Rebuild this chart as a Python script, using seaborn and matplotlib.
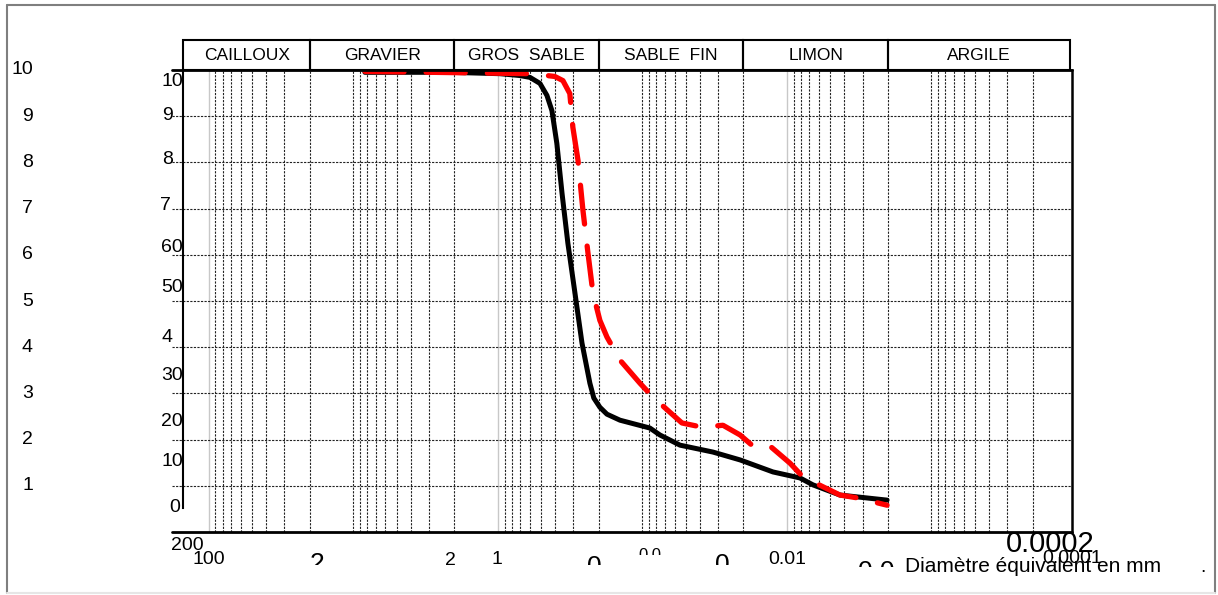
import numpy as np
import matplotlib
matplotlib.use("Agg")
import matplotlib.pyplot as plt
from matplotlib.ticker import LogLocator, NullFormatter
from matplotlib.transforms import Bbox, blended_transform_factory
from matplotlib.patches import Rectangle
import seaborn as sns

# grain size curves: diameter (mm) and % passing
black_d = [8.32, 2.15, 0.969, 0.705, 0.600, 0.512, 0.458, 0.423, 0.391, 0.360, 0.328,
           0.293, 0.262, 0.231, 0.217, 0.197, 0.176, 0.143, 0.0888, 0.0757, 0.0550,
           0.0325, 0.0211, 0.0125, 0.00813, 0.00661, 0.00430, 0.00203]
black_p = [99.5, 99.5, 99.2, 98.8, 98.4, 97.1, 94.5, 91.2, 84.1, 73.3, 62.5,
           51.7, 40.9, 32.2, 29.0, 27.0, 25.5, 24.2, 22.5, 21.0, 18.8,
           17.3, 15.6, 13.0, 11.7, 10.2, 8.0, 6.9]
red_d = [8.32, 0.601, 0.458, 0.404, 0.355, 0.318, 0.303, 0.279, 0.258, 0.238, 0.220,
         0.197, 0.176, 0.143, 0.104, 0.0846, 0.0533, 0.0388, 0.0277, 0.0211, 0.0172,
         0.0131, 0.00953, 0.00774, 0.00430, 0.00328, 0.00203]
red_p = [99.7, 99.2, 98.8, 98.6, 97.7, 94.9, 87.6, 80.4, 69.6, 60.3, 51.7,
         45.8, 42.2, 37.2, 32.2, 29.2, 23.6, 22.7, 23.1, 21.0, 18.6,
         18.6, 14.9, 11.9, 8.0, 7.4, 5.8]

# soil classes and their limits (mm)
classes = ["CAILLOUX", "GRAVIER", "GROS  SABLE", "SABLE  FIN", "LIMON", "ARGILE"]
class_edges = [150, 20, 2, 0.2, 0.02, 0.002, 0.00011]

grid_pct = [10, 20, 30, 40, 50, 60, 70, 80, 90]
outer_vals = [100, 90, 80, 70, 60, 50, 40, 30, 20, 10]
outer_text = ["10", "9", "8", "7", "6", "5", "4", "3", "2", "1"]

# leftover labels of the original chart: text, x px, top px, size, clip px
inner_labels = [("10", 183, 82), ("9", 173, 116), ("8", 173, 160), ("7", 171, 205),
                ("60", 183, 247), ("50", 183, 287), ("4", 172, 337), ("30", 183, 376),
                ("20", 183, 422), ("10", 183, 462), ("0", 180, 507)]
bottom_labels = [("200", 187, 536, 14, None), ("100", 209, 550, 14, None),
                 ("2", 317, 552, 19, 565), ("2", 450, 551, 14, None),
                 ("1", 497, 550, 14, None), ("0", 594, 555, 19, 565),
                 ("0.0", 650, 548, 12, 555), ("0", 722, 553, 19, 565),
                 ("0.01", 787, 550, 14, None), ("0.0", 876, 560, 19, 567),
                 ("0.0002", 1050, 531, 21, 553), ("0.0001", 1072, 549, 14, None)]

W, H = 1218, 595
sns.set_theme(style="white")
plt.rcParams["font.family"] = ["Liberation Sans", "DejaVu Sans"]

fig = plt.figure(figsize=(W / 100, H / 100), dpi=100)
ax = fig.add_axes([183 / W, 1 - 532 / H, 889 / W, 462 / H])

sns.lineplot(x=black_d, y=black_p, color="black", lw=3.6, sort=False, ax=ax, zorder=3)
sns.lineplot(x=red_d, y=red_p, color="red", lw=3.8, sort=False, ax=ax, zorder=4)
ax.lines[-2].set_solid_joinstyle("round")
red = ax.lines[-1]
red.set_linestyle((0, (7.4, 4.2)))
red.set_dash_capstyle("round")
red.set_dash_joinstyle("round")

ax.set_xscale("log")
ax.set_xlim(151, 1.066e-4)
ax.set_ylim(0, 100)
ax.set_xlabel("")
ax.set_ylabel("")
ax.set_yticks([])

ax.xaxis.set_major_locator(LogLocator(base=100, numticks=10))
ax.xaxis.set_minor_locator(LogLocator(base=10, subs=np.arange(1, 10), numticks=100))
ax.xaxis.set_major_formatter(NullFormatter())
ax.xaxis.set_minor_formatter(NullFormatter())
ax.tick_params(axis="x", which="major", direction="inout", length=10, width=1, color="#555555")
ax.tick_params(axis="x", which="minor", length=0)
ax.grid(True, axis="x", which="major", color="#c8c8c8", lw=1.0, ls="-")
ax.grid(True, axis="x", which="minor", color="#222222", lw=0.8, ls=(0, (2, 1.2)))

ext = -11 / 889
for p in grid_pct:
    ax.axhline(p, xmin=ext, xmax=1, color="#222222", lw=0.8, ls=(0, (2, 1.2)),
               clip_on=False, zorder=1)
for p in (0, 100):
    ax.axhline(p, xmin=ext, xmax=1, color="black", lw=2, clip_on=False, zorder=5)

for s in ("top", "bottom"):
    ax.spines[s].set_visible(False)
ax.spines["left"].set_bounds(5.2, 100)
ax.spines["left"].set_color("black")
ax.spines["left"].set_linewidth(1.5)
ax.spines["right"].set_color("black")
ax.spines["right"].set_linewidth(1.8)

# class header boxes
trans = blended_transform_factory(ax.transData, ax.transAxes)
for i, name in enumerate(classes):
    a, b = class_edges[i], class_edges[i + 1]
    ax.add_patch(Rectangle((a, 1.0), b - a, 0.064, transform=trans, fill=False,
                           ec="black", lw=1.5, clip_on=False))
    ax.text(np.sqrt(a * b), 1.032, name, transform=trans, ha="center", va="center",
            fontsize=12.5, color="black")

# left labels
tr_left = blended_transform_factory(fig.transFigure, ax.transData)
for v, t in zip(outer_vals, outer_text):
    fig.text(33 / W, v, t, transform=tr_left, ha="right", va="center", fontsize=14,
             color="black")
for t, x, y in inner_labels:
    fig.text(x / W, 1 - y / H, t, ha="right", va="center", fontsize=14, color="black")

# bottom labels
for t, x, top, size, clip in bottom_labels:
    base = top + 0.716 * size * 100 / 72
    txt = fig.text(x / W, 1 - base / H, t, ha="center", va="baseline", fontsize=size,
                   color="black")
    if clip is not None:
        txt.set_clip_box(Bbox.from_extents(0, H - clip, W, H))
        txt.set_clip_on(True)

fig.text(905 / W, 1 - 567 / H, "Diamètre équivalent en mm", ha="left", va="center",
         fontsize=15, color="black")
fig.text(1203 / W, 1 - 567 / H, ".", ha="center", va="center", fontsize=14, color="black")

# outer frame
fr = "#7f7f7f"
fig.add_artist(plt.Line2D([7 / W, 7 / W], [1 - 593 / H, 1 - 5 / H], color=fr, lw=1.5))
fig.add_artist(plt.Line2D([7 / W, 1215 / W], [1 - 5 / H, 1 - 5 / H], color=fr, lw=1.5))
fig.add_artist(plt.Line2D([1215 / W, 1215 / W], [1 - 5 / H, 1 - 593 / H], color=fr, lw=1.5))
fig.add_artist(plt.Line2D([7 / W, 1215 / W], [1 - 593 / H, 1 - 593 / H], color="#e6e6e6", lw=1.5))

plt.savefig("out.png", dpi=100)
